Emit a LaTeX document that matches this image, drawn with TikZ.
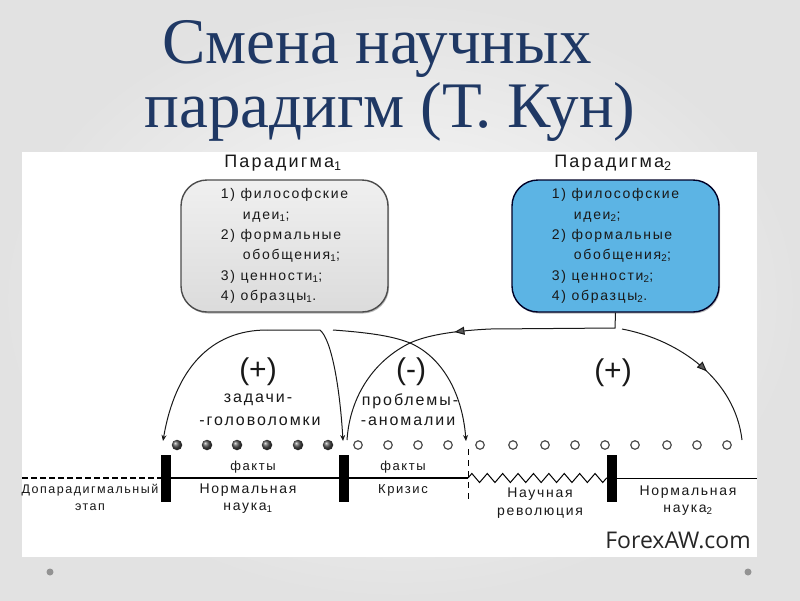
\documentclass[tikz,border=0pt]{standalone}
\usepackage{fontspec}
\setmainfont{Liberation Sans}
\newfontfamily\titlefont{Liberation Serif}
\newfontfamily\dfont[LetterSpace=12]{Liberation Sans}
\newfontfamily\wmfont{Open Sans}
\usetikzlibrary{arrows.meta,decorations.markings,decorations.pathmorphing,shadows}
\definecolor{titleblue}{RGB}{31,56,100}
\definecolor{bgray}{RGB}{214,214,214}
\definecolor{bblue}{RGB}{92,180,228}
\definecolor{bgback}{RGB}{226,226,226}
\definecolor{ink}{RGB}{25,25,25}
\begin{document}
\begin{tikzpicture}[x=1pt,y=-1pt,
  titletext/.style={font=\titlefont\fontsize{65}{65}\selectfont, text=titleblue, anchor=base, inner sep=0},
  parbox/.style={rounded corners=26pt, minimum width=207pt, minimum height=132pt, line width=1.4pt,
    align=left, font=\dfont\fontsize{14}{20.4}\selectfont, inner sep=0, text=ink,
    drop shadow={shadow xshift=1pt, shadow yshift=-1.5pt, fill=black!55}},
  plabel/.style={font=\dfont\fontsize{18}{20}\selectfont, inner sep=0, text=ink},
  sign/.style={font=\fontsize{30}{30}\selectfont, inner sep=0, text=ink},
  mid/.style={font=\dfont\fontsize{16}{18}\selectfont, inner sep=0, text=ink},
  small/.style={font=\dfont\fontsize{13}{15}\selectfont, inner sep=0, text=ink},
  stage/.style={font=\dfont\fontsize{14}{16}\selectfont, inner sep=0, text=ink},
  fdot/.style={circle, inner sep=0, minimum size=10.5pt, ball color=gray!60!black},
  odot/.style={circle, inner sep=0, minimum size=8.5pt, draw=gray!60!black, line width=1.2pt, fill=white},
  bar/.style={rectangle, inner sep=0, minimum width=10pt, minimum height=47pt, fill=black},
  conn/.style={line width=1pt, draw=ink},
  tip/.style={-{Stealth[length=6pt,width=5pt]}},
  midarrow/.style={postaction={decorate}, decoration={markings,
     mark=at position #1 with {\arrow{Triangle[length=10pt,width=8pt,fill=gray!70!black,color=ink]}}}}
]
\useasboundingbox (0,0) rectangle (800,600);
\shade[inner color=white!97!gray, outer color=bgback] (0,0) rectangle (800,600);
\fill[white] (22,152) rectangle (757,557);
\fill[gray!85] (50,572) circle (3.5);
\fill[gray!85] (748,572) circle (3.5);

% title
\node[titletext, text depth=0pt] (t1) at (377,63) {Смена научных};
\node[titletext, text height=40pt] (t2) at (390,127) {парадигм (Т. Кун)};

% paradigm boxes
\node[plabel] (l1) at (283,163) {Парадигма\textsubscript{1}};
\node[plabel] (l2) at (613,163) {Парадигма\textsubscript{2}};
\node[parbox, top color=gray!12, bottom color=gray!28, draw=black!70] (p1) at (284.5,246) {1) философские\\\hspace*{22pt}идеи\textsubscript{1};\\2) формальные\\\hspace*{22pt}обобщения\textsubscript{1};\\3) ценности\textsubscript{1};\\4) образцы\textsubscript{1}.};
\node[parbox, fill=bblue, draw=black!85!blue] (p2) at (615.5,246) {1) философские\\\hspace*{22pt}идеи\textsubscript{2};\\2) формальные\\\hspace*{22pt}обобщения\textsubscript{2};\\3) ценности\textsubscript{2};\\4) образцы\textsubscript{2}.};

% dots
\foreach \x [count=\i] in {177,207,237,267,298,328} \node[fdot] (f\i) at (\x,445) {};
\foreach \x [count=\i] in {358,388,418,448,480,513,545,575,605,635,667,697,727} \node[odot] (o\i) at (\x,445) {};

% bars and time line
\node[bar] (b1) at (166,478.5) {};
\node[bar] (b2) at (344,478.5) {};
\node[bar] (b3) at (612,478.5) {};
\coordinate (lstart) at (22,478);
\coordinate (rev) at (468,478);
\coordinate (lend) at (757,478);
\draw[line width=1.2pt, dash pattern=on 6pt off 3pt] (lstart) -- (b1.west |- lstart);
\draw[line width=1.2pt] (b1.east |- lstart) -- (b2.west |- lstart);
\draw[line width=1.2pt] (b2.east |- lstart) -- (rev);
\draw[line width=1pt, decorate, decoration={zigzag, segment length=15.4pt, amplitude=4.5pt}] (rev) -- (b3.west |- lstart);
\draw[line width=1pt] (b3.east |- lstart) -- (lend);
\coordinate (vtop) at (468,449);
\coordinate (vbot) at (468,503);
\draw[line width=0.8pt, dash pattern=on 6pt off 5pt] (vtop) -- (vbot);

% connectors
\coordinate (aL) at (163,441);
\coordinate (aR) at (343,441);
\coordinate (cX) at (410,343);
\coordinate (aC) at (466,441);
\coordinate (aM) at (347,440);
\coordinate (j) at (615,328);
\coordinate (rE) at (742,440);
\draw[conn, tip] (267,330) -- (320,330) .. controls (332,340) and (340,390) .. (aR);
\draw[conn, tip] (267,330) .. controls (210,330) and (175,370) .. (aL);
\draw[conn, tip] (333,330) .. controls (375,333) and (395,337) .. (cX) .. controls (440,356) and (462,390) .. (aC);
\draw[conn, midarrow=176pt] (p2.south) -- (j) -- (490,329) .. controls (450,331) and (425,336) .. (cX) .. controls (375,360) and (350,395) .. (aM);
\draw[conn, midarrow=0.55] (622,329) .. controls (680,340) and (735,380) .. (rE);

% labels
\node[sign] (s1) at (258,372) {(+)};
\node[mid] (m1) at (258,400) {задачи-};
\node[mid] (m2) at (260,421) {-головоломки};
\node[sign] (s2) at (411,372) {(-)};
\node[mid] (m3) at (410,401) {проблемы-};
\node[mid] (m4) at (408,421) {-аномалии};
\node[sign] (s3) at (613,373) {(+)};

\node[small] (k1) at (253,467) {факты};
\node[small] (k2) at (403,467) {факты};
\node[font=\dfont\fontsize{12.5}{15}\selectfont, inner sep=0, text=ink] (e1) at (90,490) {Допарадигмальный};
\node[font=\dfont\fontsize{12.5}{15}\selectfont, inner sep=0, text=ink] (e2) at (90,507) {этап};
\node[stage] (n1) at (248,490) {Нормальная};
\node[stage] (n2) at (248,508) {наука\textsubscript{1}};
\node[small] (c1) at (403,490) {Кризис};
\node[stage] (r1) at (540,494) {Научная};
\node[stage] (r2) at (540,513) {революция};
\node[stage] (n3) at (688,492) {Нормальная};
\node[stage] (n4) at (688,510) {наука\textsubscript{2}};
\node[font=\wmfont\fontsize{23}{25}\selectfont, inner sep=0, text=black!85] (wm) at (678,540) {ForexAW.com};
\end{tikzpicture}
\end{document}
